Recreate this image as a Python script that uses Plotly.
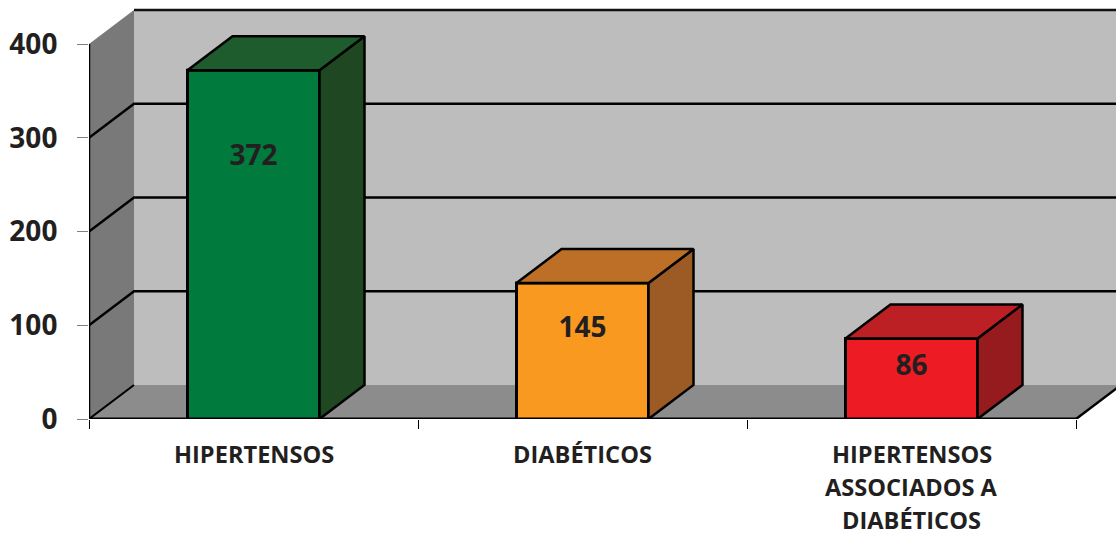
import plotly.graph_objects as go

categories = ["HIPERTENSOS", "DIABÉTICOS", "HIPERTENSOS<br>ASSOCIADOS A<br>DIABÉTICOS"]
values = [372, 145, 86]
label_heights = [278, 95, 54]
y_ticks = [0, 100, 200, 300, 400]
front_colors = ["#007a3d", "#f9991f", "#ed1c24"]
top_colors = ["#1e5c2e", "#bd6f27", "#bc2024"]
side_colors = ["#1f4721", "#9c5b24", "#961b1e"]

TEXT = "#231f20"
FONT = "Open Sans"
W, H = 1116, 535
L, B = 89, 116
CAT_PX = 329.0
VAL_PX = 375.0 / 400.0
DX = 45 / CAT_PX
DY = 34 / VAL_PX
XMAX = (W - L) / CAT_PX
YMAX = (H - B) / VAL_PX
NC = len(categories)
BAR_W = 132 / CAT_PX
TOPV = y_ticks[-1]
LINE_GAP = 33
FIRST_LINE = 35

fig = go.Figure()


def poly(xs, ys, fill, ax=("x", "y"), line=None):
    fig.add_trace(go.Scatter(
        x=xs + xs[:1], y=ys + ys[:1], mode="lines", fill="toself", fillcolor=fill,
        line=line or dict(width=0, color=fill), hoverinfo="skip", showlegend=False,
        xaxis=ax[0], yaxis=ax[1]))


def seg(xs, ys, width=2, color="#000000", ax=("x", "y")):
    fig.add_trace(go.Scatter(
        x=xs, y=ys, mode="lines", line=dict(width=width, color=color), hoverinfo="skip",
        showlegend=False, cliponaxis=False, xaxis=ax[0], yaxis=ax[1]))


# walls
poly([DX, NC + DX, NC + DX, DX], [DY, DY, TOPV + DY, TOPV + DY], "#bdbdbd")
poly([0, DX, DX, 0], [0, DY, TOPV + DY, TOPV], "#797979")
poly([0, NC, NC + DX, DX], [0, 0, DY, DY], "#8c8c8c")
fig.add_trace(go.Scatter(
    x=[DX, XMAX], y=[TOPV + DY, TOPV + DY], mode="lines", line=dict(width=2.5, color="#111111"),
    hoverinfo="skip", showlegend=False))
for t in y_ticks[1:-1]:
    fig.add_trace(go.Scatter(
        x=[0, DX, XMAX], y=[t, t + DY, t + DY], mode="lines", line=dict(width=2.5, color="#000000"),
        hoverinfo="skip", showlegend=False))
seg([0, DX], [0, DY], 2)
seg([NC, NC + DX], [0, DY], 2.5)
seg([0, 0], [0, TOPV], 2.5)
seg([0, NC], [0, 0], 3)

# bars
ax2 = ("x2", "y2")
centers = [i + 0.5 for i in range(NC)]
edge = dict(width=2.5, color="#000000")
fig.add_trace(go.Bar(
    x=centers, y=values, width=BAR_W, marker=dict(color=front_colors, line=dict(color="#000000", width=3)),
    hoverinfo="skip", showlegend=False, xaxis="x2", yaxis="y2"))
for c, v, tc, sc in zip(centers, values, top_colors, side_colors):
    x0, x1 = c - BAR_W / 2, c + BAR_W / 2
    poly([x1, x1 + DX, x1 + DX, x1], [0, DY, v + DY, v], sc, ax2, edge)
    poly([x0, x1, x1 + DX, x0 + DX], [v, v, v + DY, v + DY], tc, ax2, edge)

fig.add_trace(go.Scatter(
    x=centers, y=label_heights, mode="text", text=[str(v) for v in values],
    textfont=dict(family=FONT, size=28, color=TEXT, weight="bold"), textposition="middle center",
    hoverinfo="skip", showlegend=False, xaxis="x2", yaxis="y2"))

annotations = []
for c, cat in zip(centers, categories):
    for i, part in enumerate(cat.split("<br>")):
        annotations.append(dict(
            x=c, y=0, xref="x2", yref="y2", text=part, showarrow=False, xanchor="center", yanchor="middle",
            yshift=-(FIRST_LINE + i * LINE_GAP),
            font=dict(family=FONT, size=23.6, color=TEXT, weight="bold")))

fig.update_layout(
    width=W, height=H, margin=dict(l=L, r=0, t=0, b=B, pad=0), paper_bgcolor="white",
    plot_bgcolor="white", barmode="overlay",
    font=dict(family=FONT, color=TEXT), annotations=annotations,
    xaxis=dict(range=[0, XMAX], tickmode="array", tickvals=list(range(NC + 1)),
               ticktext=[""] * (NC + 1), ticks="outside", ticklen=9, tickwidth=1, tickcolor="#000000",
               showgrid=False, zeroline=False, showline=False),
    yaxis=dict(range=[0, YMAX], tickmode="array", tickvals=y_ticks, ticktext=[str(t) for t in y_ticks],
               ticks="outside", ticklen=11, tickwidth=1, tickcolor="#808080", ticklabelstandoff=14,
               tickfont=dict(family=FONT, size=28, color=TEXT, weight="bold"),
               showgrid=False, zeroline=False, showline=False),
    xaxis2=dict(range=[0, XMAX], overlaying="x", anchor="y2", visible=False),
    yaxis2=dict(range=[0, YMAX], overlaying="y", anchor="x2", visible=False),
)

fig.write_html("out.html", config=dict(displayModeBar=False),
               post_script="document.body.style.margin='0';")
